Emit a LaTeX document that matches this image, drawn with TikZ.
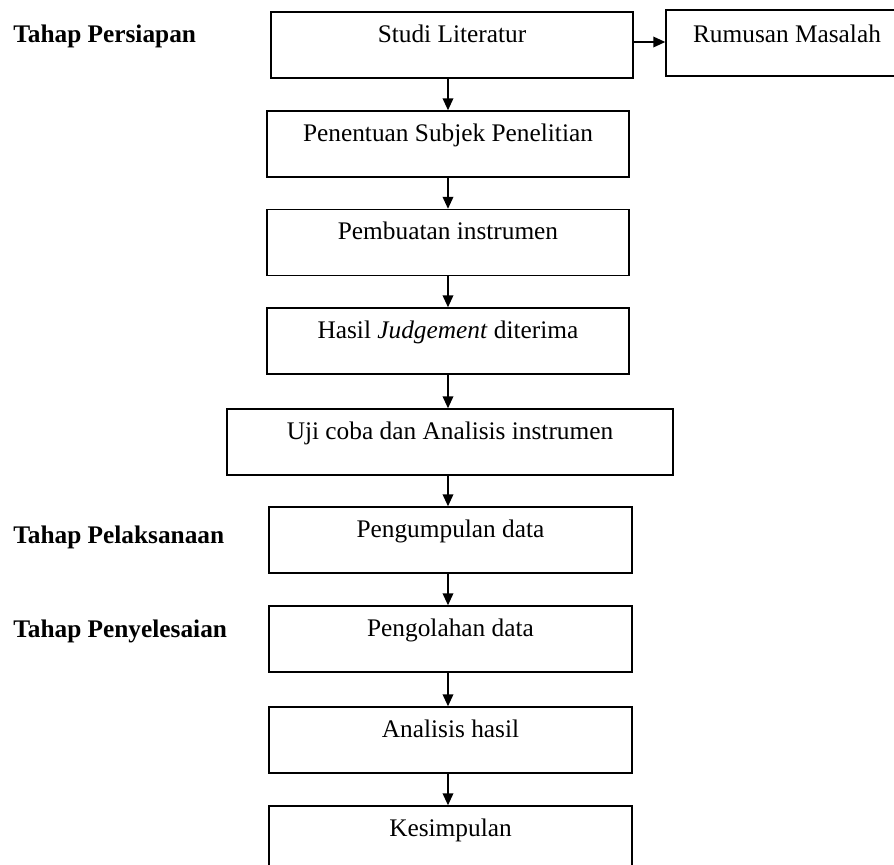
\documentclass[tikz,border=0pt]{standalone}
\usepackage{fontspec}
\setmainfont{Liberation Serif}
\usetikzlibrary{arrows.meta}
\begin{document}
\begin{tikzpicture}[x=0.75pt,y=-0.75pt,
  box/.style={draw,line width=1.1pt,rectangle,inner sep=0pt,text height=22.5pt,text depth=27pt,font=\fontsize{19}{23}\selectfont},
  lab/.style={anchor=base west,inner sep=0pt,font=\fontsize{19}{23}\selectfont\bfseries},
  arr/.style={line width=1.1pt,-{Triangle[length=9pt,width=8pt]}}]
\useasboundingbox (0,0) rectangle (894,865);
\clip (0,0) rectangle (894,865);
\coordinate (col) at (448,0);
\coordinate (ra) at (0,42);
% boxes
\node[box,minimum width=271.5pt] (studi) at (452,45) {Studi Literatur};
\node[box,minimum width=181.5pt,text height=24pt,text depth=25.5pt] (rum) at (787,43) {Rumusan Masalah};
\node[box,minimum width=271.5pt] (pen) at (448,144) {Penentuan Subjek Penelitian};
\node[box,minimum width=271.5pt] (pem) at (448,242.5) {Pembuatan instrumen};
\node[box,minimum width=271.5pt] (has) at (448,341) {Hasil \textit{Judgement} diterima};
\node[box,minimum width=334.5pt] (uji) at (450,442) {Uji coba dan Analisis instrumen};
\node[box,minimum width=272.25pt] (kum) at (450.5,540) {Pengumpulan data};
\node[box,minimum width=272.25pt] (ola) at (450.5,639) {Pengolahan data};
\node[box,minimum width=272.25pt] (ana) at (450.5,740) {Analisis hasil};
\node[box,minimum width=272.25pt] (kes) at (450.5,839) {Kesimpulan};
% labels
\node[lab] (l1) at (13,42) {Tahap Persiapan};
\node[lab] (l2) at (13,543) {Tahap Pelaksanaan};
\node[lab] (l3) at (13,637) {Tahap Penyelesaian};
% arrows
\draw[arr] (studi.east |- ra) -- (rum.west |- ra);
\draw[arr] (studi.south -| col) -- (pen.north -| col);
\draw[arr] (pen.south -| col) -- (pem.north -| col);
\draw[arr] (pem.south -| col) -- (has.north -| col);
\draw[arr] (has.south -| col) -- (uji.north -| col);
\draw[arr] (uji.south -| col) -- (kum.north -| col);
\draw[arr] (kum.south -| col) -- (ola.north -| col);
\draw[arr] (ola.south -| col) -- (ana.north -| col);
\draw[arr] (ana.south -| col) -- (kes.north -| col);
\end{tikzpicture}
\end{document}
